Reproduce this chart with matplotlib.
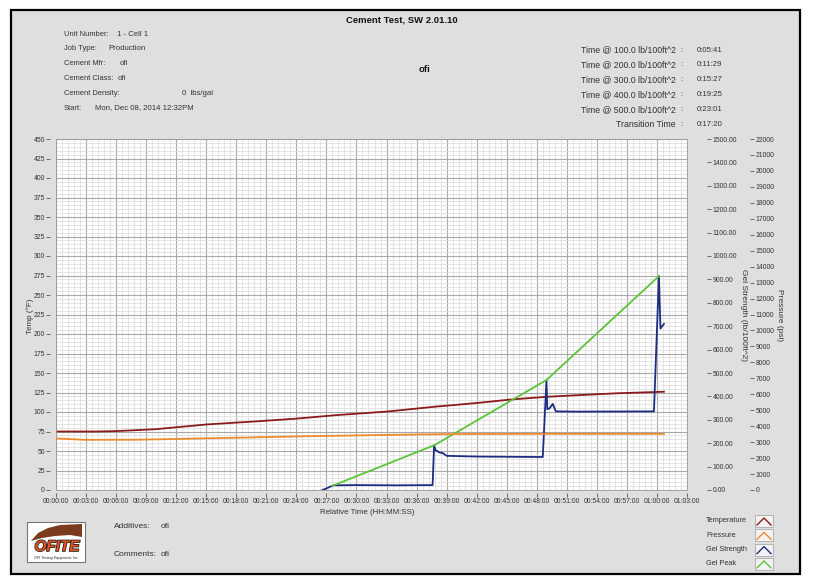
import matplotlib
matplotlib.use('Agg')
import matplotlib.pyplot as plt
import matplotlib.patheffects as pe
from matplotlib.ticker import MultipleLocator, FuncFormatter
from matplotlib.patches import Rectangle, Polygon
from matplotlib.lines import Line2D

# ---- data (time in minutes) ----
temp_time = [0, 4, 6, 10, 15, 20, 24, 28, 33, 38, 42, 45.4, 49, 52, 56, 60.7]
temp_f = [75, 75, 75.5, 78, 84, 88, 91.5, 96, 100.5, 107, 111.5, 116, 119.5, 121.5, 124, 126]

pres_time = [0, 2, 3, 8, 12, 19, 25, 30, 36, 40, 50, 60.7]
pres_psi = [3230, 3170, 3145, 3150, 3200, 3290, 3370, 3420, 3480, 3510, 3520, 3520]

gel_time = [26.6, 26.9, 27.7, 30, 34, 37.6, 37.75, 37.9, 38.3, 38.6, 39.0, 42, 48.6,
            48.97, 49.05, 49.3, 49.6, 49.9, 52, 59.7, 60.2, 60.35, 60.7]
gel_str = [0, 5, 20, 21, 20, 21, 190, 170, 160, 158, 146, 143, 141,
           470, 345, 350, 368, 336, 335, 336, 914, 690, 710]

peak_time = [27.6, 37.8, 48.97, 60.2]
gel_peak = [18, 192, 470, 914]

x_ticks = list(range(0, 64, 3))

# label, value, value x-position (px)
header_left = [("Unit Number:", "1 - Cell 1", 117),
               ("Job Type:", "Production", 108),
               ("Cement Mfr:", "ofi", 120),
               ("Cement Class:", "ofi", 118),
               ("Cement Density:", "0  lbs/gal", 182),
               ("Start:", "Mon, Dec 08, 2014 12:32PM", 95)]
header_right = [("Time @ 100.0 lb/100ft^2", "0:05:41"),
                ("Time @ 200.0 lb/100ft^2", "0:11:29"),
                ("Time @ 300.0 lb/100ft^2", "0:15:27"),
                ("Time @ 400.0 lb/100ft^2", "0:19:25"),
                ("Time @ 500.0 lb/100ft^2", "0:23:01"),
                ("Transition Time", "0:17:20")]

series_names = ["Temperature", "Pressure", "Gel Strength", "Gel Peak"]
series_colors = ["#8B1A1A", "#EE8A2E", "#1E2C82", "#5CC33A"]

W, H = 817, 577
plt.rcParams['font.family'] = ['Liberation Sans', 'DejaVu Sans']
TXT = '#333333'

fig = plt.figure(figsize=(W / 100, H / 100), dpi=100)
fig.patch.set_facecolor('white')

# overlay in pixel coords for frame, logo, legend
ov = fig.add_axes([0, 0, 1, 1], zorder=0)
ov.set_xlim(0, W)
ov.set_ylim(H, 0)
ov.axis('off')
ov.add_patch(Rectangle((11, 10), 789, 564, facecolor='#DFDFDF', edgecolor='black', lw=1.6))


def px(x, y):
    return x / W, 1 - y / H


# ---- main chart ----
l, r, t, b = 56, 687, 139, 490
ax = fig.add_axes([l / W, (H - b) / H, (r - l) / W, (b - t) / H], zorder=1)
ax.set_facecolor('white')
ax2 = ax.twinx()
ax3 = ax.twinx()
ax2.set_zorder(2)
ax3.set_zorder(3)

ax.set_xlim(0, 63)
ax.set_ylim(0, 450)
ax2.set_ylim(0, 1500)
ax3.set_ylim(0, 22000)

ax.set_xticks(x_ticks)
ax.xaxis.set_minor_locator(MultipleLocator(0.6))
ax.yaxis.set_major_locator(MultipleLocator(25))
ax.yaxis.set_minor_locator(MultipleLocator(5))
ax.xaxis.set_major_formatter(FuncFormatter(
    lambda v, p: "%02d:%02d:00" % (int(round(v)) // 60, int(round(v)) % 60)))
ax.grid(which='major', color='#A9A9A9', lw=0.8)
ax.grid(which='minor', color='#DADADA', lw=0.5)
ax.set_axisbelow(True)
ax.tick_params(which='minor', length=0)
ax.tick_params(which='major', direction='out', length=3, width=0.6, color='#555555',
               labelsize=4.9, labelcolor=TXT, pad=1)
# ticks sit a few pixels away from the plot frame
ax.spines['left'].set_position(('outward', 4))
ax.spines['bottom'].set_position(('outward', 2))
for s in ax.spines.values():
    s.set_visible(False)
ax.add_patch(Rectangle((0, 0), 1, 1, transform=ax.transAxes, fill=False,
                       edgecolor='#9A9A9A', lw=0.6, clip_on=False, zorder=5))

ax2.spines['right'].set_position(('axes', (707 - l) / (r - l)))
ax3.spines['right'].set_position(('axes', (750 - l) / (r - l)))
for a in (ax2, ax3):
    for s in a.spines.values():
        s.set_visible(False)
    a.tick_params(axis='y', direction='out', length=3, width=0.6, color='#555555',
                  labelsize=4.9, labelcolor=TXT, pad=1)
ax2.yaxis.set_major_locator(MultipleLocator(100))
ax2.yaxis.set_major_formatter(FuncFormatter(lambda v, p: "%.2f" % v))
ax3.yaxis.set_major_locator(MultipleLocator(1000))
ax3.yaxis.set_major_formatter(FuncFormatter(lambda v, p: "%d" % v))

ax.plot(temp_time, temp_f, color=series_colors[0], lw=1.3)
ax3.plot(pres_time, pres_psi, color=series_colors[1], lw=1.3)
ax2.plot(gel_time, gel_str, color=series_colors[2], lw=1.3)
ax2.plot(peak_time, gel_peak, color=series_colors[3], lw=1.3)

# axis titles
fig.text(*px(30, 316), "Temp (°F)", rotation=90, ha='center', va='center', fontsize=5.8, color=TXT)
fig.text(*px(743, 315), "Gel Strength (lb/100ft^2)", rotation=-90, ha='center', va='center',
         fontsize=6, color=TXT)
fig.text(*px(780, 315), "Pressure (psi)", rotation=-90, ha='center', va='center', fontsize=6, color=TXT)
fig.text(*px(367, 513), "Relative Time (HH:MM:SS)", ha='center', va='center', fontsize=5.7, color=TXT)

# ---- header ----
fig.text(*px(402, 20), "Cement Test, SW 2.01.10", ha='center', va='center', fontsize=6.8,
         fontweight='bold', color='#111111')
fig.text(*px(424, 70), "ofi", ha='center', va='center', fontsize=6.8, fontweight='bold', color='#111111')
for i, (lab, val, vx) in enumerate(header_left):
    y = 34 + i * 14.8
    fig.text(*px(64, y), lab, ha='left', va='center', fontsize=5.4, color=TXT)
    fig.text(*px(vx, y), val, ha='left', va='center', fontsize=5.6, color=TXT)
for i, (lab, val) in enumerate(header_right):
    y = 50 + i * 15
    fig.text(*px(676, y), lab, ha='right', va='center', fontsize=6.3, color=TXT)
    fig.text(*px(681, y), ":", ha='center', va='center', fontsize=5.6, color=TXT)
    fig.text(*px(697, y), val, ha='left', va='center', fontsize=5.6, color=TXT)

# ---- footer ----
fig.text(*px(114, 527), "Additives:", ha='left', va='center', fontsize=6, color=TXT)
fig.text(*px(161, 527), "ofi", ha='left', va='center', fontsize=6, color=TXT)
fig.text(*px(114, 554), "Comments:", ha='left', va='center', fontsize=6, color=TXT)
fig.text(*px(161, 554), "ofi", ha='left', va='center', fontsize=6, color=TXT)

# logo
ov.add_patch(Rectangle((27, 522), 58, 40, facecolor='white', edgecolor='#777777', lw=0.8))
ov.add_patch(Polygon([(31, 541), (38, 533), (48, 528), (60, 525), (82, 524), (82, 537),
                      (70, 535), (55, 536), (42, 538)], closed=True, facecolor='#7A3B1E',
                     edgecolor='none'))
ov.text(57, 547, "OFITE", ha='center', va='center', fontsize=11, fontweight='bold',
        fontstyle='italic', color='#E8541E',
        path_effects=[pe.withStroke(linewidth=1.2, foreground='#222222')])
ov.text(56, 558, "OFI Testing Equipment, Inc.", ha='center', va='center', fontsize=2.6,
        fontstyle='italic', color='#222222')

# legend
for i, (name, col) in enumerate(zip(series_names, series_colors)):
    y = 521 + i * 14.3
    fig.text(*px(706, y), name, ha='left', va='center', fontsize=5.3, color=TXT)
    ov.add_patch(Rectangle((755, y - 6), 18, 12, facecolor='#F2F2F2', edgecolor='#AAAAAA', lw=0.6))
    ov.add_line(Line2D([757, 764, 771], [y + 4, y - 3, y + 4], color=col, lw=1.0))

fig.savefig('out.png', dpi=100, facecolor='white')
